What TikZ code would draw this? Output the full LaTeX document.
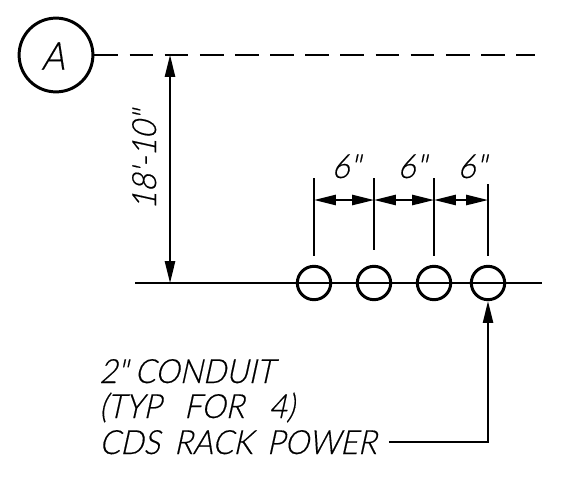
\documentclass[tikz,border=0pt]{standalone}
\usepackage{fontspec}
\usepackage{tikz}
\usetikzlibrary{arrows.meta,calc}
\newfontfamily\cadfont{Lato Light}[FakeSlant=0.22,FakeStretch=0.92,FakeBold=0.4,WordSpace=1.7]
\definecolor{cadink}{RGB}{0,0,0}
\tikzset{
    cadtext/.style={font=\fontsize{19pt}{20pt}\selectfont\cadfont, inner sep=0pt, text=cadink},
    cadline/.style={cadink, line width=1.1pt},
    dimline/.style={cadline, {Triangle[length=12.4pt,width=5.8pt]}-{Triangle[length=12.4pt,width=5.8pt]}},
    leaderline/.style={cadline, -{Triangle[length=12.4pt,width=5.8pt]}},
    conduit/.style={circle, draw=cadink, line width=1.7pt, minimum size=19pt, inner sep=0pt},
}
\begin{document}
\begin{tikzpicture}[x=0.2mm,y=-0.2mm]
    \useasboundingbox (0,0) rectangle (577,490);

    % Grid bubble
    \node[conduit, minimum size=42pt] (bubble) at (56,55) {};
    \node[cadtext, font=\fontsize{22pt}{24pt}\selectfont\cadfont] (bubbletext) at (53,56) {A};

    % Grid line and floor line
    \coordinate (gridend) at (535,55);
    \draw[cadline, dash pattern=on 13.5pt off 6.5pt] (bubble.east) -- (gridend);
    \coordinate (floorleft) at (135,283);
    \coordinate (floorright) at (542,283);
    \draw[cadline] (floorleft) -- (floorright);

    % Conduits
    \node[conduit] (c1) at (314,283) {};
    \node[conduit] (c2) at (374,283) {};
    \node[conduit] (c3) at (434,283) {};
    \node[conduit] (c4) at (488,283) {};

    % Extension lines
    \coordinate (t1) at (314,178);
    \coordinate (t2) at (374,178);
    \coordinate (t3) at (434,178);
    \coordinate (t4) at (488,184);
    \coordinate (b1) at (314,256);
    \coordinate (b2) at (374,250);
    \coordinate (b3) at (434,256);
    \coordinate (b4) at (488,256);
    \foreach \i in {1,2,3,4}
        \draw[cadline] (t\i) -- (b\i);

    % 6" dimensions
    \coordinate (d1) at (314,200);
    \coordinate (d2) at (374,200);
    \coordinate (d3) at (434,200);
    \coordinate (d4) at (488,200);
    \draw[dimline] (d1) -- (d2);
    \draw[dimline] (d2) -- (d3);
    \draw[dimline] (d3) -- (d4);
    \node[cadtext, anchor=base] (six1) at (346,178) {6"};
    \node[cadtext, anchor=base] (six2) at (412,178) {6"};
    \node[cadtext, anchor=base] (six3) at (472,178) {6"};

    % Height dimension
    \coordinate (h1) at (170,55);
    \coordinate (h2) at (170,283);
    \draw[dimline] (h1) -- (h2);
    \node[cadtext, anchor=base, rotate=90] (height) at (156,160) {18'-10"};

    % Note
    \node[cadtext, anchor=base west] (note1) at (99,383) {2"\hspace{-4pt} CONDUIT};
    \node[cadtext, anchor=base west] (note2) at (99,418) {(TYP\hspace{5pt} FOR\hspace{6pt} 4)};
    \node[cadtext, anchor=base west] (note3) at (99,454) {CDS RACK POWER};
    \draw[leaderline] ($(note3.east)+(12,0)$) -| (c4.south);
\end{tikzpicture}
\end{document}
